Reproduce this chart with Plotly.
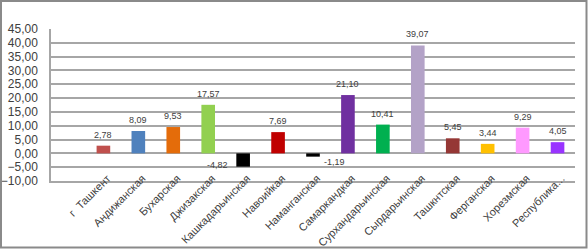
import plotly.graph_objects as go

categories = ["г  Ташкент", "Андижанская", "Бухарская", "Джизакская", "Кашкадарьинская",
              "Навоийкая", "Наманганская", "Самаркандкая", "Сурхандарьинская",
              "Сырдарьинская", "Ташкнтская", "Ферганская", "Хорезмская", "Республика..."]
values = [2.78, 8.09, 9.53, 17.57, -4.82, 7.69, -1.19, 21.10, 10.41, 39.07, 5.45, 3.44, 9.29, 4.05]
colors = ["#C0504D", "#4F81BD", "#E46C0A", "#92D050", "#000000", "#C00000", "#000000",
          "#7030A0", "#00B050", "#B3A2C7", "#953735", "#FFC000", "#FF99FF", "#9933FF"]
label_texts = ["2,78", "8,09", "9,53", "17,57", "-4,82", "7,69", "-1,19", "21,10", "10,41",
               "39,07", "5,45", "3,44", "9,29", "4,05"]
y_ticks = [-10, -5, 0, 5, 10, 15, 20, 25, 30, 35, 40, 45]

W, H = 588, 249
L, R, T, B = 51, 13, 29, 68
pw, ph = W - L - R, H - T - B


def px_x(p):
    return (p - L) / pw


def px_y(p):
    return (H - B - p) / ph


fig = go.Figure()
fig.add_trace(go.Bar(x=categories, y=values, marker=dict(color=colors, line=dict(width=0)),
                     width=0.39, hoverinfo="x+y"))

annotations = []
for c, v, t in zip(categories, values, label_texts):
    if v >= 0:
        annotations.append(dict(x=c, y=v, text=t, showarrow=False, yanchor="middle",
                                yshift=11, font=dict(size=9, color="#404040")))
    else:
        xs = -26 if v < -3 else 21
        ys = -12 if v < -3 else -9
        annotations.append(dict(x=c, y=0, text=t, showarrow=False, yanchor="middle",
                                xshift=xs, yshift=ys, font=dict(size=9, color="#404040")))

fig.update_layout(
    width=W, height=H,
    margin=dict(l=L, r=R, t=T, b=B, autoexpand=False),
    paper_bgcolor="white", plot_bgcolor="white",
    separators=", ",
    showlegend=False,
    font=dict(family="Liberation Sans, Arial, sans-serif", color="#404040", size=12),
    annotations=annotations,
    bargap=0.6,
    shapes=[dict(type="rect", xref="paper", yref="paper",
                 x0=px_x(1), x1=px_x(W - 1.5),
                 y0=px_y(H - 1.5), y1=px_y(1),
                 line=dict(color="#8A8A8A", width=2), fillcolor="rgba(0,0,0,0)", layer="above")],
)
fig.update_xaxes(range=[-1.5, 13.5], tickangle=-45, showgrid=False, showline=True,
                 linecolor="#A6A6A6", linewidth=1.5, ticks="", automargin=False,
                 ticklabelstandoff=-15, ticklabelshift=4,
                 tickfont=dict(size=11, color="#404040"))
fig.update_yaxes(range=[-10, 45], tickvals=y_ticks, tickformat=".2f", showgrid=True,
                 gridcolor="#A6A6A6", gridwidth=1.5, zeroline=True, zerolinecolor="#A6A6A6",
                 zerolinewidth=1.5, showline=True, linecolor="#A6A6A6", linewidth=1.5,
                 ticks="", ticklabelstandoff=9, automargin=False,
                 tickfont=dict(size=12, color="#404040"))

fig.write_html("out.html", config={"displayModeBar": False},
               post_script="document.body.style.margin='0px';document.body.style.overflow='hidden';")
